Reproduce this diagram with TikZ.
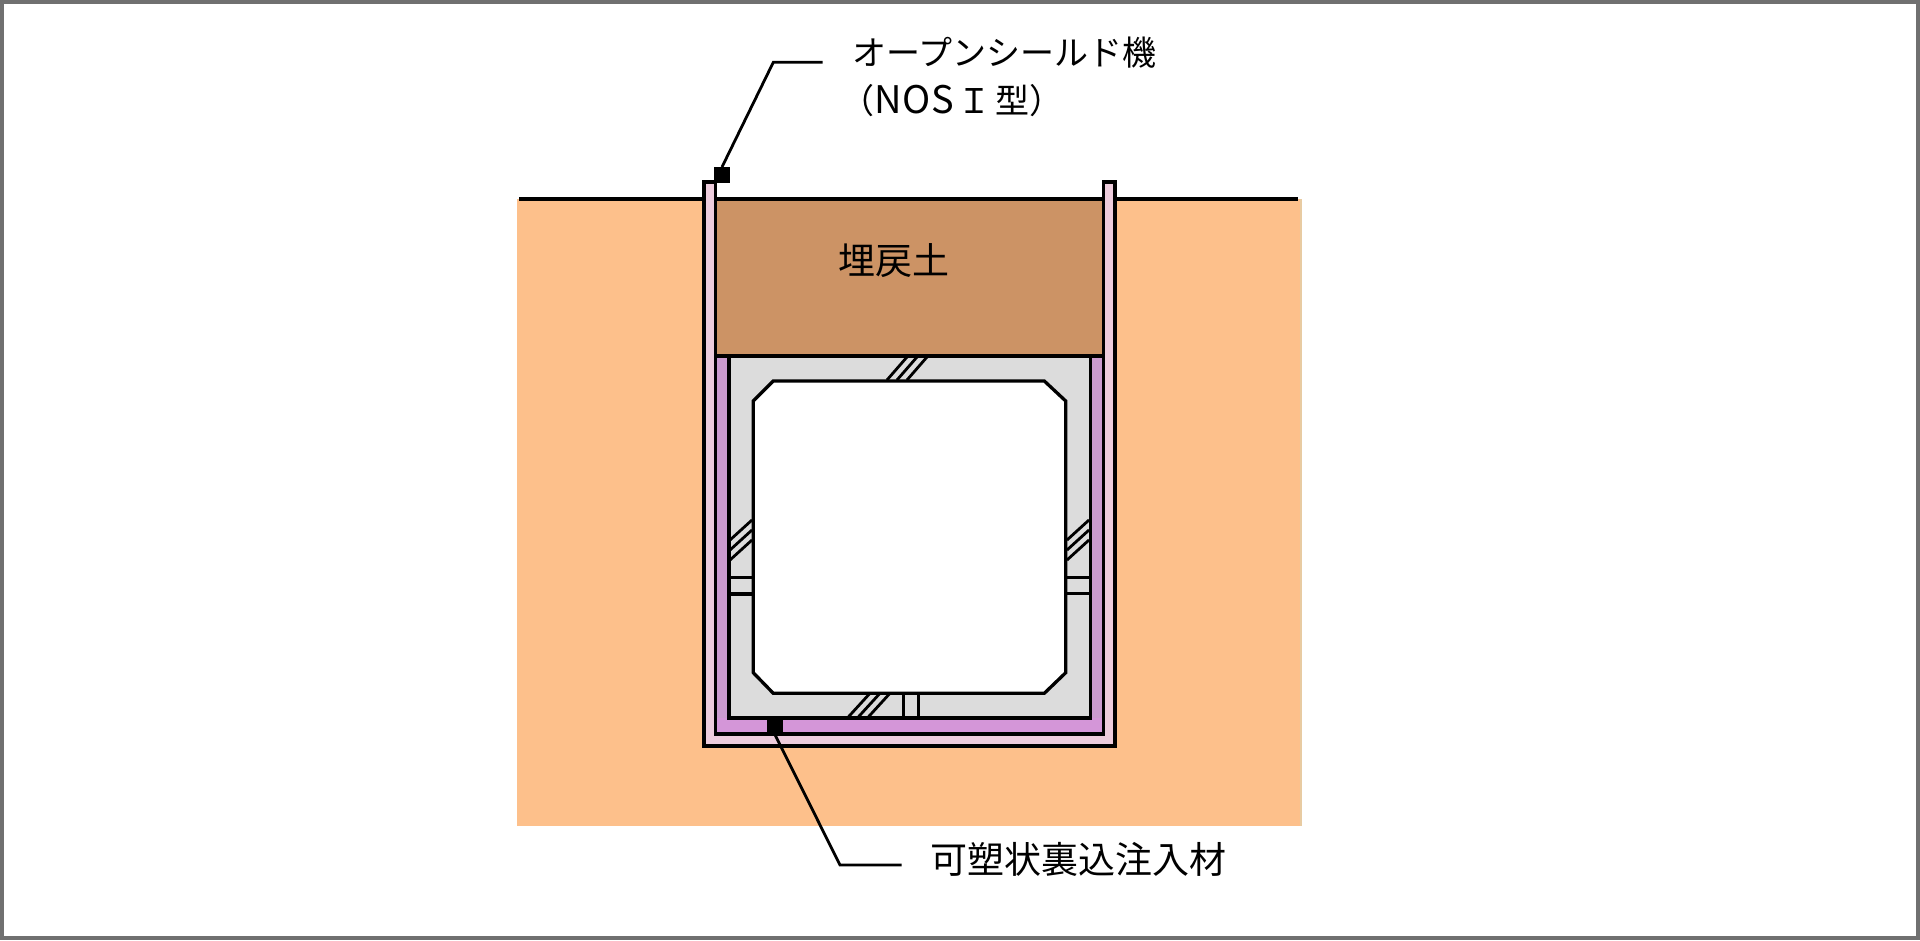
\documentclass[tikz,border=0pt]{standalone}
\usepackage{fontspec}
\setmainfont{Noto Sans CJK JP}
\tikzset{
  px/.style={x=1pt,y=-1pt},
  ink/.style={draw=black,line width=3.3pt,line join=miter},
  thin ink/.style={draw=black,line width=2.8pt},
  label/.style={inner sep=0pt,anchor=west,text=black},
  marker/.style={fill=black,inner sep=0pt,minimum width=15.5pt,minimum height=15.5pt}
}
\definecolor{ground}{HTML}{FDC08B}
\definecolor{groundedge}{HTML}{E8CBA2}
\definecolor{backfill}{HTML}{CC9365}
\definecolor{pile}{HTML}{EDCCDC}
\definecolor{groutside}{HTML}{CB9BCF}
\definecolor{groutbottom}{HTML}{D496D8}
\definecolor{culvert}{HTML}{DCDCDC}
\definecolor{frame}{HTML}{707070}
\begin{document}
\begin{tikzpicture}[px]
\useasboundingbox (0,0) rectangle (1920,940);
\fill[white] (0,0) rectangle (1920,940);
\draw[frame,line width=4pt] (2,2) rectangle (1918,938);
% ground
\fill[groundedge] (1299,199) rectangle (1302,826);
\fill[ground] (517,199) rectangle (1300,826);
\draw[ink] (519,199) -- (1298,199);
% backfill
\fill[backfill] (716,199) rectangle (1103,356);
\draw[ink] (716,199) -- (1103,199);
% grout
\fill[groutside] (716,356) rectangle (1103,734);
\fill[groutbottom] (716,718) rectangle (1103,734);
% culvert
\draw[ink,fill=culvert] (729,356) -- (729,718) -- (1090.5,718) -- (1090.5,356);
\draw[ink] (716,356) -- (1103,356);
\draw[ink,fill=white] (773.3,381) -- (1044.3,381) -- (1065.7,401) -- (1065.7,672.7) -- (1044.3,693.3) -- (773.3,693.3) -- (753.3,672.7) -- (753.3,401) -- cycle;
% joints
\foreach \d in {0,10,20}{
  \draw[thin ink] (730,540+\d) -- (752,520+\d);
  \draw[thin ink] (1067,540+\d) -- (1089,520+\d);
  \draw[thin ink] (848.3+\d,717) -- (869.3+\d,694);
  \draw[thin ink] (887+\d,380) -- (907+\d,357);
}
\draw[ink] (729,577.3) -- (753,577.3) (729,594) -- (753,594);
\draw[ink] (1066,577.3) -- (1090,577.3) (1066,593.5) -- (1090,593.5);
\draw[ink] (903.3,693) -- (903.3,718) (918.3,693) -- (918.3,718);
% sheet piles
\draw[ink,fill=pile] (715.5,734) -- (715.5,182) -- (704,182) -- (704,746) -- (1115,746) -- (1115,182) -- (1103.5,182) -- (1103.5,734) -- cycle;
% labels
\node[label] (open) at (852,53) {\fontsize{34pt}{34pt}\selectfont オープンシールド機};
\node[label] (nosi) at (840,101) {\fontsize{34pt}{34pt}\selectfont （{\fontsize{38pt}{38pt}\selectfont N\kern1pt O\kern1pt S}\hspace{3pt}Ｉ\hspace{4pt}型）};
\node[inner sep=0pt,text=black] (umodoshi) at (894,261) {\fontsize{37pt}{37pt}\selectfont 埋戻土};
\node[label] (grout) at (930,859) {\fontsize{37pt}{37pt}\selectfont 可塑状裏込注入材};
% leaders
\node[marker] (mtop) at (722,175) {};
\node[marker] (mbot) at (775,726.7) {};
\coordinate (ktop) at (773.3,62.3);
\coordinate (etop) at (822.7,62.3);
\coordinate (kbot) at (840,865);
\coordinate (ebot) at (901.7,865);
\draw[thin ink] (mtop.north) -- (ktop) -- (etop);
\draw[thin ink] (mbot.south) -- (kbot) -- (ebot);
\end{tikzpicture}
\end{document}
